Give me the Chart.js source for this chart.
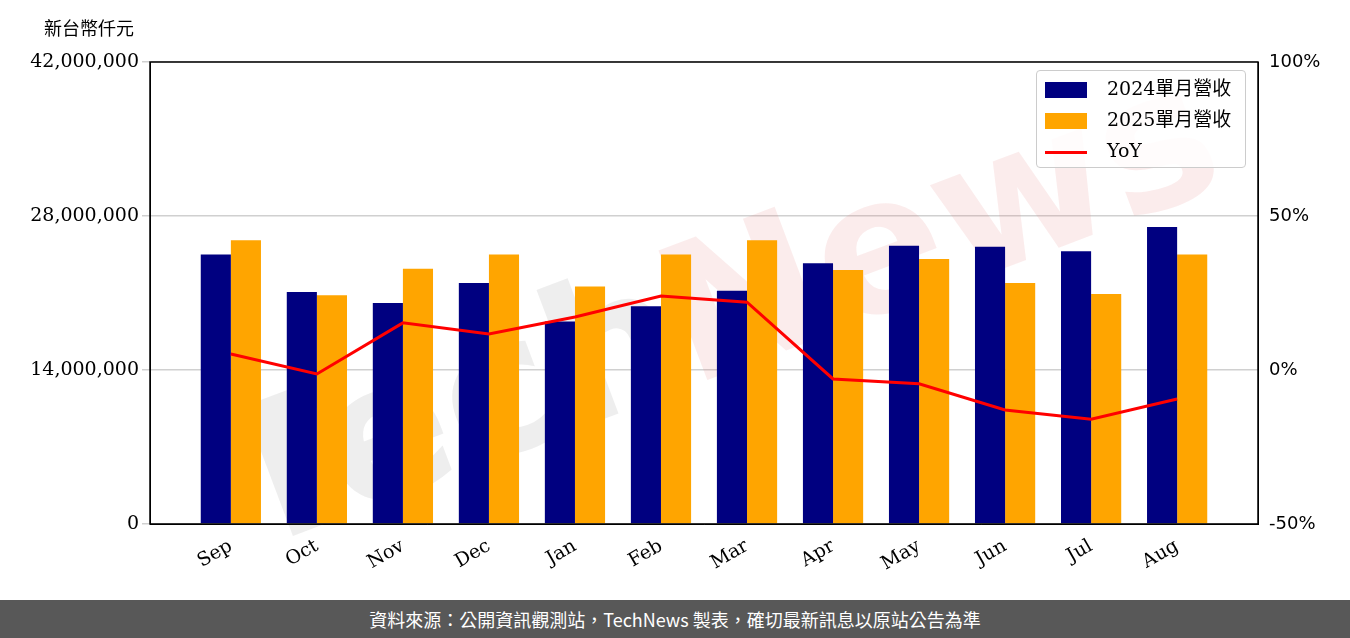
<!DOCTYPE html>
<html><head><meta charset="utf-8">
<script src="https://cdn.jsdelivr.net/npm/chart.js@4"></script>
<style>
body{margin:0;width:1350px;height:638px;background:#fff;position:relative;overflow:hidden;font-family:'Noto Sans CJK TC','DejaVu Sans',sans-serif}
#wrap{position:absolute;left:0;top:0;width:1350px;height:600px}
#unit{position:absolute;left:44px;top:14px;font-size:18px;color:#000}
#foot{position:absolute;left:0;top:600px;width:1350px;height:38px;background:#585858;color:#fff;font-size:18px;text-align:center;line-height:38px}
#legend{position:absolute;left:1036px;top:70px;width:208px;height:96px;border:1px solid #ccc;border-radius:4px;background:rgba(255,255,255,.85);font-family:'DejaVu Serif','Noto Sans CJK TC';font-size:19px}
#legend div{position:absolute;left:8px;height:22px;line-height:22px}
#legend span{display:inline-block;width:42px;margin-right:20px;vertical-align:middle}
</style></head><body>
<div id="wrap"><canvas id="c" width="1350" height="600"></canvas></div>
<div id="unit">新台幣仟元</div>
<div id="legend">
 <div style="top:6px"><span style="height:16px;background:#000080"></span>2024單月營收</div>
 <div style="top:37px"><span style="height:16px;background:#ffa500"></span>2025單月營收</div>
 <div style="top:68px"><span style="height:3px;background:#ff0000"></span>YoY</div>
</div>
<div id="foot">資料來源：公開資訊觀測站，TechNews 製表，確切最新訊息以原站公告為準</div>
<script>
const months = ['Sep','Oct','Nov','Dec','Jan','Feb','Mar','Apr','May','Jun','Jul','Aug'];
const rev2024 = [24500000,21100000,20100000,21900000,18400000,19800000,21200000,23700000,25300000,25200000,24800000,27000000];
const rev2025 = [25800000,20800000,23200000,24500000,21600000,24500000,25800000,23100000,24100000,21900000,20900000,24500000];
const yoy = [5.2,-1.3,15.3,11.7,17.2,24.0,22.0,-2.9,-4.5,-13.0,-16.0,-9.4];
const leftTicks = [0,14000000,28000000,42000000];
const rightTicks = [-50,0,50,100];

const serif = 'DejaVu Serif';
const pts = arr => arr.map((v,i)=>({x:i,y:v}));
const frame = {
  id:'frame',
  beforeDatasetsDraw(ch){
    const {ctx}=ch;
    ctx.save();
    ctx.translate(700,330);ctx.rotate(-0.36);
    ctx.font='bold 190px DejaVu Sans';ctx.textAlign='center';ctx.textBaseline='middle';
    ctx.fillStyle='rgba(150,150,150,0.16)';ctx.fillText('Tech',-260,0);
    ctx.fillStyle='rgba(230,120,120,0.14)';ctx.fillText('News',260,0);
    ctx.restore();
  },
  afterDraw(ch){
    const {ctx,chartArea:a}=ch;
    ctx.save();ctx.strokeStyle='#000';ctx.lineWidth=1.5;
    ctx.strokeRect(a.left,a.top,a.right-a.left,a.bottom-a.top);ctx.restore();
  }
};

new Chart(document.getElementById('c'),{
  data:{datasets:[
    {type:'line',data:pts(yoy),yAxisID:'y1',borderColor:'#ff0000',borderWidth:3,pointRadius:0,tension:0,order:0},
    {type:'bar',data:pts(rev2024),backgroundColor:'#000080',yAxisID:'y',categoryPercentage:0.7,barPercentage:1,order:1},
    {type:'bar',data:pts(rev2025),backgroundColor:'#ffa500',yAxisID:'y',categoryPercentage:0.7,barPercentage:1,order:1}
  ]},
  options:{
    responsive:false,animation:false,
    layout:{padding:{top:62,left:0,right:0,bottom:0}},
    plugins:{legend:{display:false},tooltip:{enabled:false}},
    scales:{
      x:{type:'linear',min:-0.94,max:11.94,offset:false,grid:{display:false},border:{color:'#000'},
        afterBuildTicks(s){s.ticks=months.map((m,i)=>({value:i}));},
        ticks:{color:'#000',font:{family:serif,size:19},maxRotation:30,minRotation:30,callback:(v)=>months[v]},
        afterFit(s){s.height=76;}},
      y:{position:'left',min:0,max:42000000,
        afterBuildTicks(s){s.ticks=leftTicks.map(v=>({value:v}));},
        grid:{color:'#d0d0d0',lineWidth:1.5},border:{color:'#000'},
        ticks:{color:'#000',font:{family:serif,size:19},callback:v=>v.toLocaleString('en-US')},
        afterFit(s){s.width=150;}},
      y1:{position:'right',min:-50,max:100,
        afterBuildTicks(s){s.ticks=rightTicks.map(v=>({value:v}));},
        grid:{display:false},border:{color:'#000'},
        ticks:{color:'#000',font:{family:'DejaVu Sans',size:18},callback:v=>v+'%'},
        afterFit(s){s.width=92;}}
    }
  },
  plugins:[frame]
});
</script>
</body></html>
